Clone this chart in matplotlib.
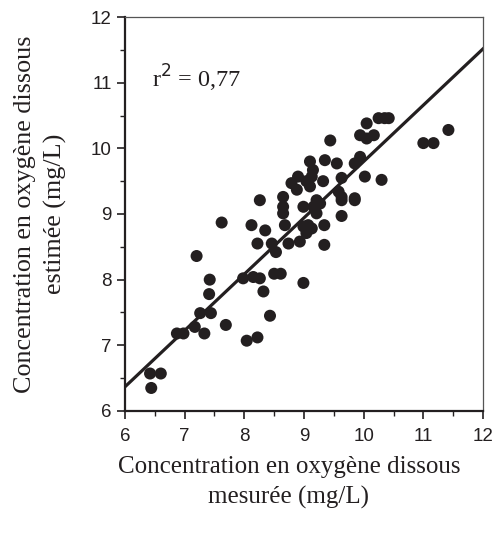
import numpy as np
import matplotlib
matplotlib.use("Agg")
import matplotlib.pyplot as plt
from matplotlib.ticker import MultipleLocator

measured = [11.42, 11.00, 11.17, 10.25, 10.35, 10.42, 10.05, 9.94, 10.05, 10.17,
            9.44, 9.10, 9.35, 9.55, 9.94, 9.85, 9.15, 9.13, 8.90, 8.79,
            8.88, 9.04, 9.10, 9.32, 9.63, 10.02, 10.30, 9.58, 9.63, 9.85,
            8.26, 8.65, 8.65, 8.99, 9.21, 9.16, 9.27, 8.65, 9.21, 9.63,
            9.85, 9.63, 7.62, 8.12, 8.35, 8.68, 8.99, 9.07, 9.13, 9.04,
            8.93, 9.34, 8.22, 8.46, 8.53, 8.74, 9.34, 7.20, 7.42, 7.98,
            8.15, 8.26, 8.50, 8.61, 8.99, 8.32, 7.41, 7.26, 7.44, 8.43,
            7.17, 7.69, 6.87, 6.98, 7.33, 8.04, 8.22, 6.42, 6.60, 6.44]
estimated = [10.28, 10.08, 10.08, 10.46, 10.46, 10.46, 10.38, 10.20, 10.15, 10.20,
             10.12, 9.80, 9.82, 9.77, 9.87, 9.77, 9.67, 9.57, 9.57, 9.47,
             9.37, 9.50, 9.42, 9.50, 9.55, 9.57, 9.52, 9.34, 9.26, 9.24,
             9.21, 9.26, 9.11, 9.11, 9.21, 9.11, 9.16, 9.01, 9.01, 9.21,
             9.21, 8.97, 8.87, 8.83, 8.75, 8.83, 8.81, 8.83, 8.78, 8.71,
             8.58, 8.83, 8.55, 8.55, 8.42, 8.55, 8.53, 8.36, 8.00, 8.02,
             8.04, 8.02, 8.09, 8.09, 7.95, 7.82, 7.78, 7.49, 7.49, 7.45,
             7.28, 7.31, 7.18, 7.18, 7.18, 7.07, 7.12, 6.57, 6.57, 6.35]

# regression line
line_slope = 0.858
line_intercept = 1.22
r2_text = "r$^2$ = 0,77"

fig = plt.figure(figsize=(4.95, 5.33), dpi=100)
ax = fig.add_axes([0.2525, 0.229, 0.7233, 0.739])

ax.scatter(measured, estimated, s=75, color='#231f20', edgecolors='none', zorder=3)
xl = np.array([6, 12])
ax.plot(xl, line_slope * xl + line_intercept, color='#231f20', lw=2.3, zorder=2)

ax.set_xlim(6, 12)
ax.set_ylim(6, 12)
ax.xaxis.set_major_locator(MultipleLocator(1))
ax.xaxis.set_minor_locator(MultipleLocator(0.5))
ax.yaxis.set_major_locator(MultipleLocator(1))
ax.yaxis.set_minor_locator(MultipleLocator(0.5))
ax.tick_params(which='major', direction='out', length=6, width=1.2, color='#231f20',
               labelsize=13.5, labelfontfamily='Liberation Sans', labelcolor='#231f20')
ax.tick_params(axis='x', which='major', pad=6)
ax.tick_params(axis='y', which='major', pad=3.5)
ax.tick_params(which='minor', direction='out', length=3.5, width=1, color='#231f20')

for s in ['left', 'bottom']:
    ax.spines[s].set_linewidth(1.6)
    ax.spines[s].set_color('#231f20')
for s in ['top', 'right']:
    ax.spines[s].set_linewidth(0.9)
    ax.spines[s].set_color('#555555')

ax.text(6.45, 10.93, r2_text, fontsize=17.5, family='Liberation Serif',
        color='#231f20', va='baseline')

ax.set_xlabel("Concentration en oxygène dissous\nmesurée (mg/L)", fontsize=18,
              family='Liberation Serif', color='#231f20', linespacing=1.45)
ax.set_ylabel("Concentration en oxygène dissous\nestimée (mg/L)", fontsize=18.8,
              family='Liberation Serif', color='#231f20', linespacing=1.45)
ax.xaxis.label.set_va('center')
ax.yaxis.label.set_va('center')
ax.xaxis.set_label_coords(0.458, -0.182)
ax.yaxis.set_label_coords(-0.237, 0.5)

fig.savefig("out.png", dpi=100)
